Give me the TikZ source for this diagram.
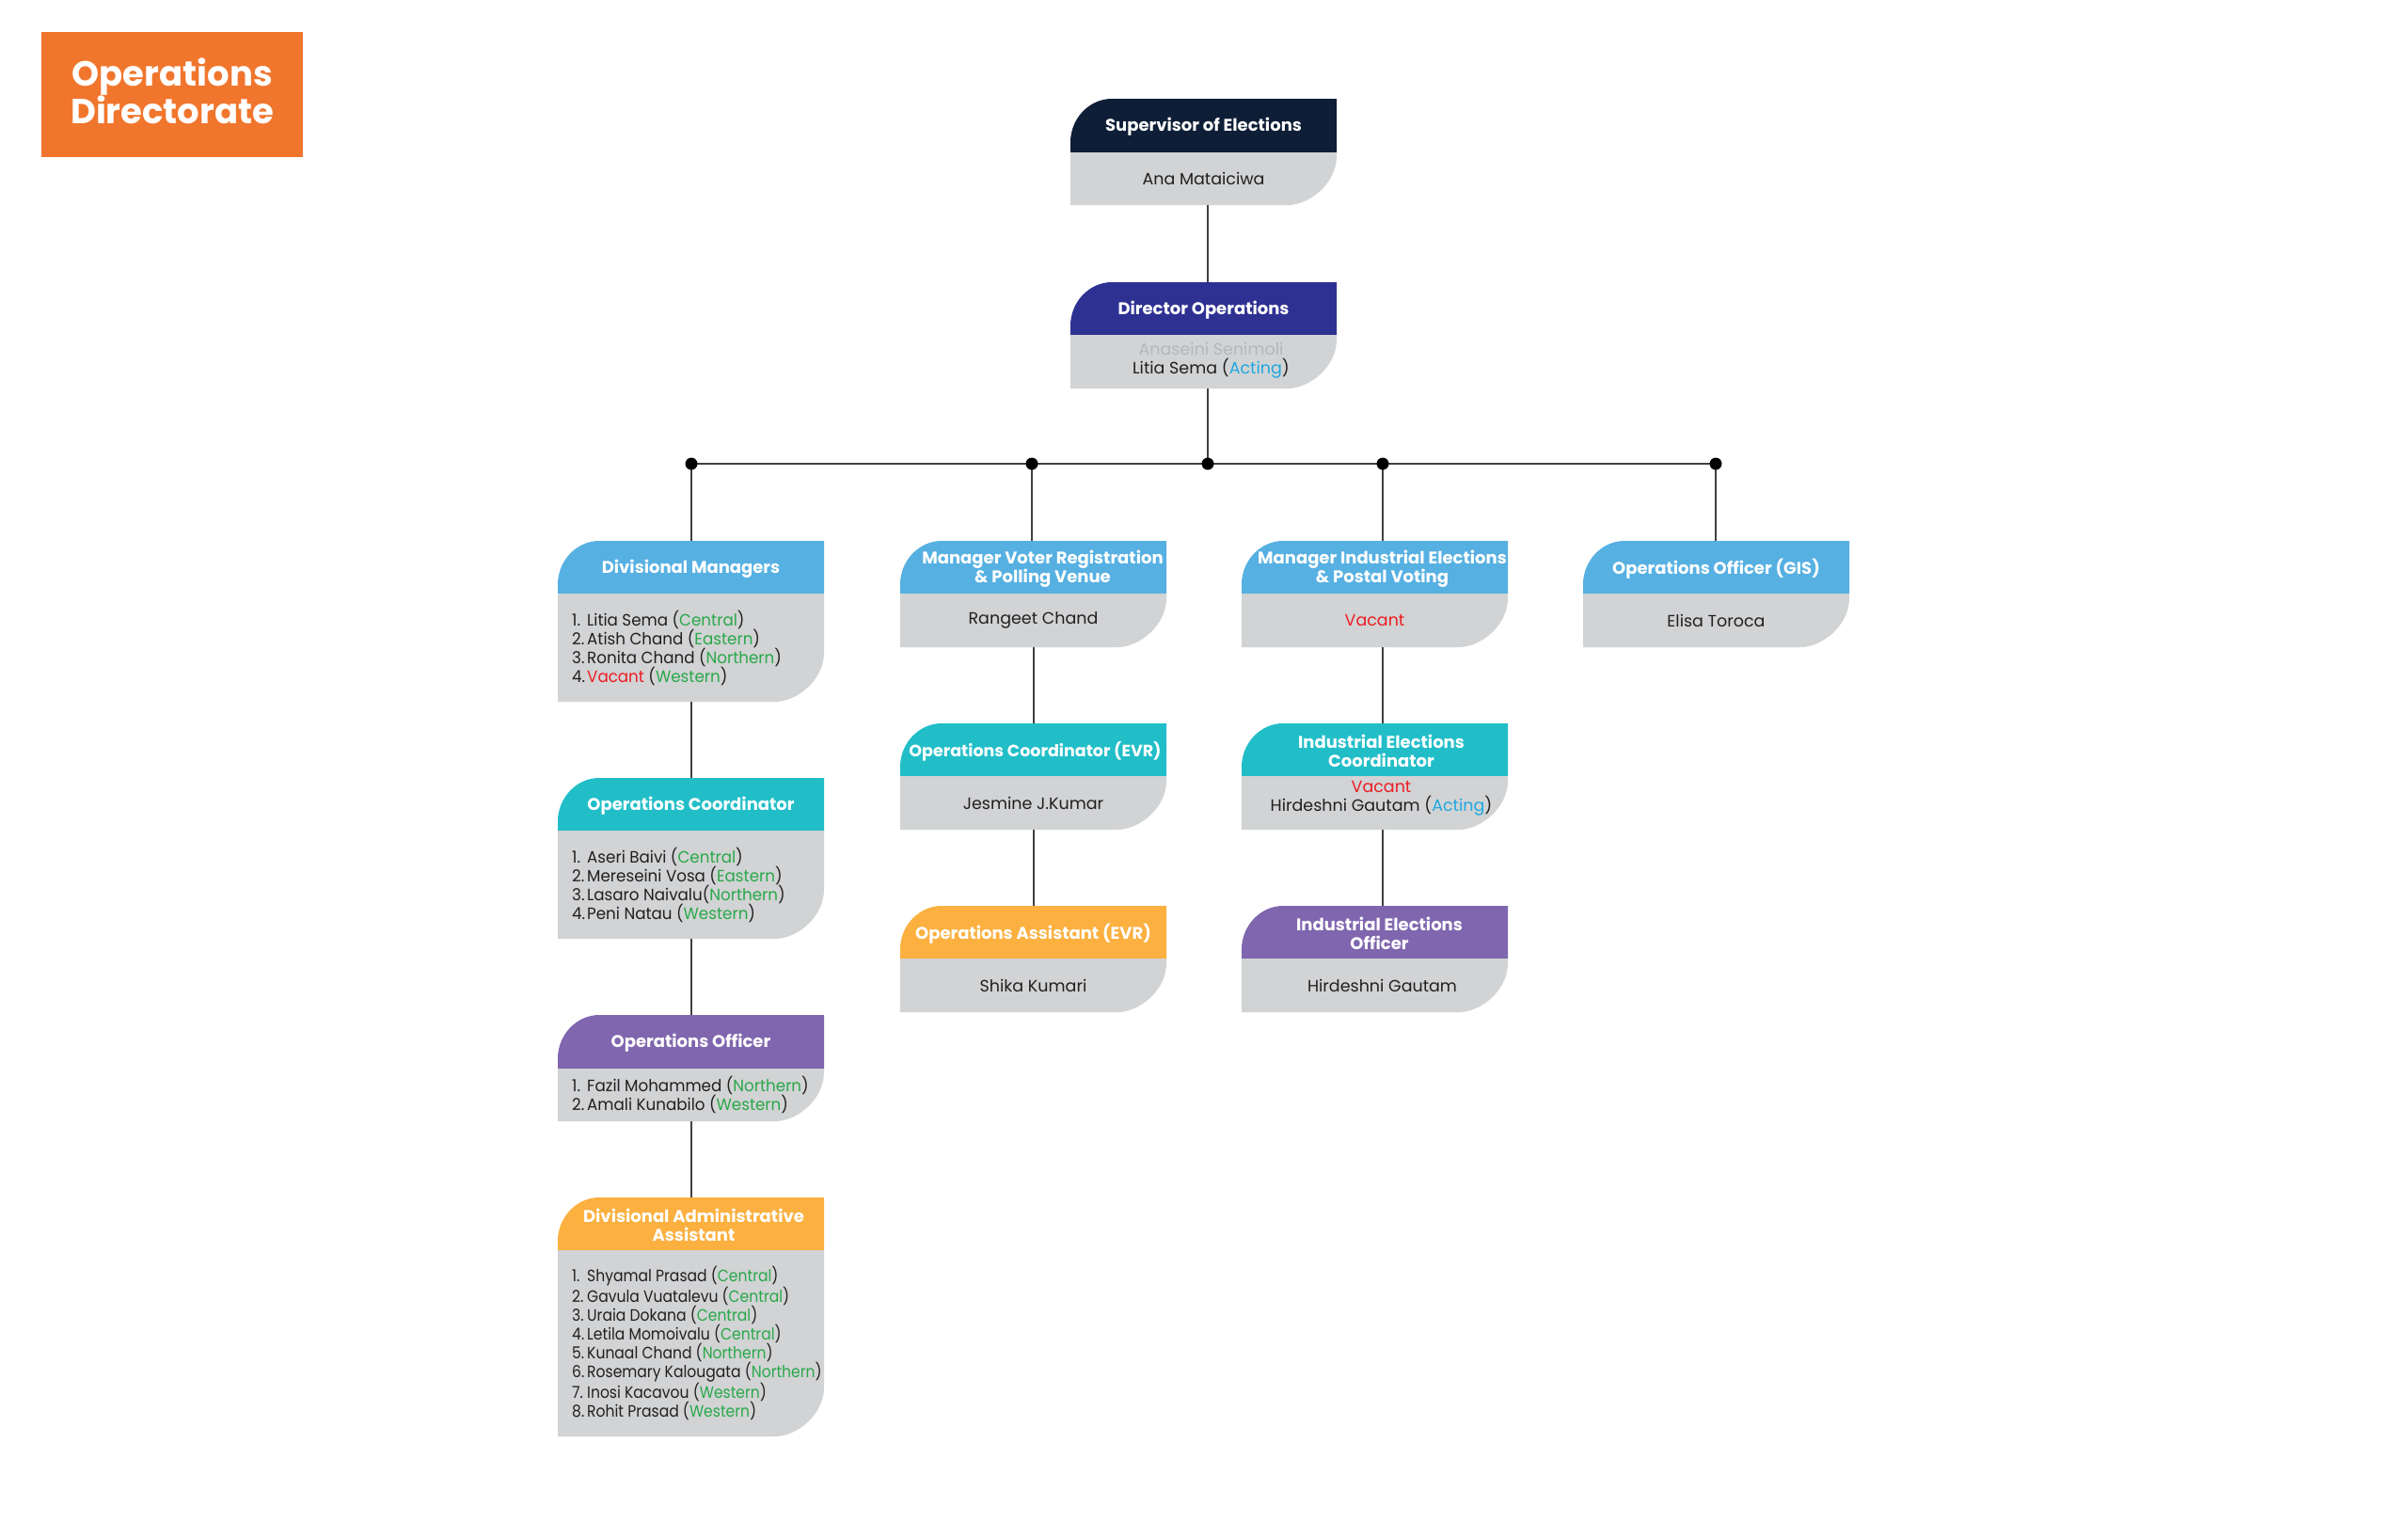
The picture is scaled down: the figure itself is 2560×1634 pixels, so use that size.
\documentclass[tikz,border=0pt]{standalone}
\usepackage{fontspec}
\setmainfont{Poppins}
\newfontfamily\condA{Poppins}[FakeStretch=0.955]
\newfontfamily\condB{Poppins}[FakeStretch=0.89]
\definecolor{navy}{HTML}{0D1E36}
\definecolor{indigo}{HTML}{2E3192}
\definecolor{lblue}{HTML}{56B0E2}
\definecolor{tealc}{HTML}{21BEC8}
\definecolor{purp}{HTML}{7F66AE}
\definecolor{amber}{HTML}{FBB040}
\definecolor{titleor}{HTML}{F1762D}
\definecolor{boxgray}{HTML}{D1D3D4}
\definecolor{grn}{HTML}{2AA84A}
\definecolor{redc}{HTML}{ED1C24}
\definecolor{actblue}{HTML}{1FA9E1}
\definecolor{fade}{HTML}{B5B7B9}
\definecolor{txt}{HTML}{231F20}
\definecolor{linec}{HTML}{414042}
\newcommand\gr[1]{\textcolor{grn}{#1}}
\newcommand\rd[1]{\textcolor{redc}{#1}}
\newcommand\ac{\textcolor{actblue}{Acting}}
\newcommand\nm[1]{\makebox[16pt][l]{#1}}
% [#1 header x offset] #2 name, #3 left, #4 top, #5 header bottom, #6 bottom, #7 colour, #8 title
\newcommand\orgbox[8][0]{%
  \fill[#7] (#3,#5) -- (#3,#4+46) .. controls (#3,#4+21) and (#3+20,#4) .. (#3+44,#4) -- (#3+283,#4) -- (#3+283,#5) -- cycle;
  \fill[boxgray] (#3,#5) -- (#3+283,#5) -- (#3+283,#6-52) .. controls (#3+283,#6-23) and (#3+254,#6) .. (#3+231,#6) -- (#3,#6) -- cycle;
  \node[boxframe, minimum height={#6-#4}] (#2) at (#3,#4) {};
  \node[headtext] (#2-h) at (#3+141.5+#1,{(#4+#5)/2+1.5}) {#8};
}
\begin{document}
\begin{tikzpicture}[x=1pt,y=-1pt,
  boxframe/.style={inner sep=0pt, outer sep=0pt, minimum width=283pt, anchor=north west},
  headtext/.style={text=white, font=\bfseries\fontsize{18}{20}\selectfont, align=center, inner sep=0pt},
  bodytext/.style={text=txt, font=\fontsize{17.5}{20}\selectfont, align=center, inner sep=0pt},
  listtext/.style={text=txt, font=\condA\fontsize{17.5}{20}\selectfont, align=left, inner sep=0pt, anchor=west},
  conn/.style={draw=linec, line width=2pt},
  dot/.style={circle, fill=black, inner sep=0pt, minimum size=13pt}]
\useasboundingbox (0,0) rectangle (2560,1634);
% title
\node[fill=titleor, minimum width=278pt, minimum height=133pt, anchor=north west, inner sep=0pt] (title) at (44,34) {};
\node[text=white, font=\bfseries\fontsize{37}{40}\selectfont, align=center] (titletext) at ([yshift=4pt]title.center) {Operations\\Directorate};
% boxes
\orgbox{sup}{1138}{105}{162}{218}{navy}{Supervisor of Elections}
\node[bodytext] (sup-b) at (1279.5,190) {Ana Mataiciwa};
\orgbox{dir}{1138}{300}{356}{413}{indigo}{Director Operations}
\node[bodytext] (dir-b) at (1287.5,383) {\textcolor{fade}{Anaseini Senimoli}\\Litia Sema (\ac)};
\orgbox{dm}{593}{575}{631}{746}{lblue}{Divisional Managers}
\node[listtext] (dm-b) at (608,688.5) {\nm{1.}Litia Sema (\gr{Central})\\\nm{2.}Atish Chand (\gr{Eastern})\\\nm{3.}Ronita Chand (\gr{Northern})\\\nm{4.}\rd{Vacant} (\gr{Western})};
\orgbox[10]{mvr}{957}{575}{631}{688}{lblue}{Manager Voter Registration\\\& Polling Venue}
\node[bodytext] (mvr-b) at (1098.5,659.5) {Rangeet Chand};
\orgbox[8]{mie}{1320}{575}{631}{688}{lblue}{Manager Industrial Elections\\\& Postal Voting}
\node[bodytext] (mie-b) at (1461.5,659.5) {\rd{Vacant}};
\orgbox{gis}{1683}{575}{631}{688}{lblue}{Operations Officer (GIS)}
\node[bodytext] (gis-b) at (1824.5,659.5) {Elisa Toroca};
\orgbox{oc}{593}{827}{883}{998}{tealc}{Operations Coordinator}
\node[listtext] (oc-b) at (608,940.5) {\nm{1.}Aseri Baivi (\gr{Central})\\\nm{2.}Mereseini Vosa (\gr{Eastern})\\\nm{3.}Lasaro Naivalu(\gr{Northern})\\\nm{4.}Peni Natau (\gr{Western})};
\orgbox[2]{oce}{957}{769}{825}{882}{tealc}{\fontsize{17.5}{20}\selectfont Operations Coordinator (EVR)}
\node[bodytext] (oce-b) at (1098.5,853.5) {Jesmine J.Kumar};
\orgbox[7]{iec}{1320}{769}{825}{882}{tealc}{Industrial Elections\\Coordinator}
\node[bodytext] (iec-b) at (1468.5,848.5) {\rd{Vacant}\\Hirdeshni Gautam (\ac)};
\orgbox{oo}{593}{1079}{1136}{1192}{purp}{Operations Officer}
\node[listtext] (oo-b) at (608,1164) {\nm{1.}Fazil Mohammed (\gr{Northern})\\\nm{2.}Amali Kunabilo (\gr{Western})};
\orgbox[3]{daa}{593}{1273}{1329}{1527}{amber}{Divisional Administrative\\Assistant}
\node[listtext, font=\condB\fontsize{17.5}{20}\selectfont] (daa-b) at (608,1428) {\nm{1.}Shyamal Prasad (\gr{Central})\\\nm{2.}Gavula Vuatalevu (\gr{Central})\\\nm{3.}Uraia Dokana (\gr{Central})\\\nm{4.}Letila Momoivalu (\gr{Central})\\\nm{5.}Kunaal Chand (\gr{Northern})\\\nm{6.}Rosemary Kalougata (\gr{Northern})\\\nm{7.}Inosi Kacavou (\gr{Western})\\\nm{8.}Rohit Prasad (\gr{Western})};
\orgbox{oae}{957}{963}{1019}{1076}{amber}{Operations Assistant (EVR)}
\node[bodytext] (oae-b) at (1098.5,1047.5) {Shika Kumari};
\orgbox[5]{ieo}{1320}{963}{1019}{1076}{purp}{Industrial Elections\\Officer}
\node[bodytext] (ieo-b) at (1469.5,1047.5) {Hirdeshni Gautam};
% bus
\coordinate (busL) at (735,493);
\coordinate (busV) at (1097,493);
\coordinate (busC) at (1284,493);
\coordinate (busI) at (1470,493);
\coordinate (busR) at (1824,493);
% connectors
\draw[conn] ([xshift=4.5pt]sup.south) -- ([xshift=4.5pt]dir.north);
\draw[conn] ([xshift=4.5pt]dir.south) -- (busC);
\draw[conn] (busL) -- (busR);
\draw[conn] (busL) -- (busL |- dm.north);
\draw[conn] (busV) -- (busV |- mvr.north);
\draw[conn] (busI) -- (busI |- mie.north);
\draw[conn] (busR) -- (busR |- gis.north);
\draw[conn] (dm.south) -- (oc.north);
\draw[conn] (oc.south) -- (oo.north);
\draw[conn] (oo.south) -- (daa.north);
\draw[conn] (mvr.south) -- (oce.north);
\draw[conn] (oce.south) -- (oae.north);
\draw[conn] ([xshift=8.5pt]mie.south) -- ([xshift=8.5pt]iec.north);
\draw[conn] ([xshift=8.5pt]iec.south) -- ([xshift=8.5pt]ieo.north);
\foreach \p in {busL,busV,busC,busI,busR} \node[dot] at (\p) {};
\end{tikzpicture}
\end{document}
